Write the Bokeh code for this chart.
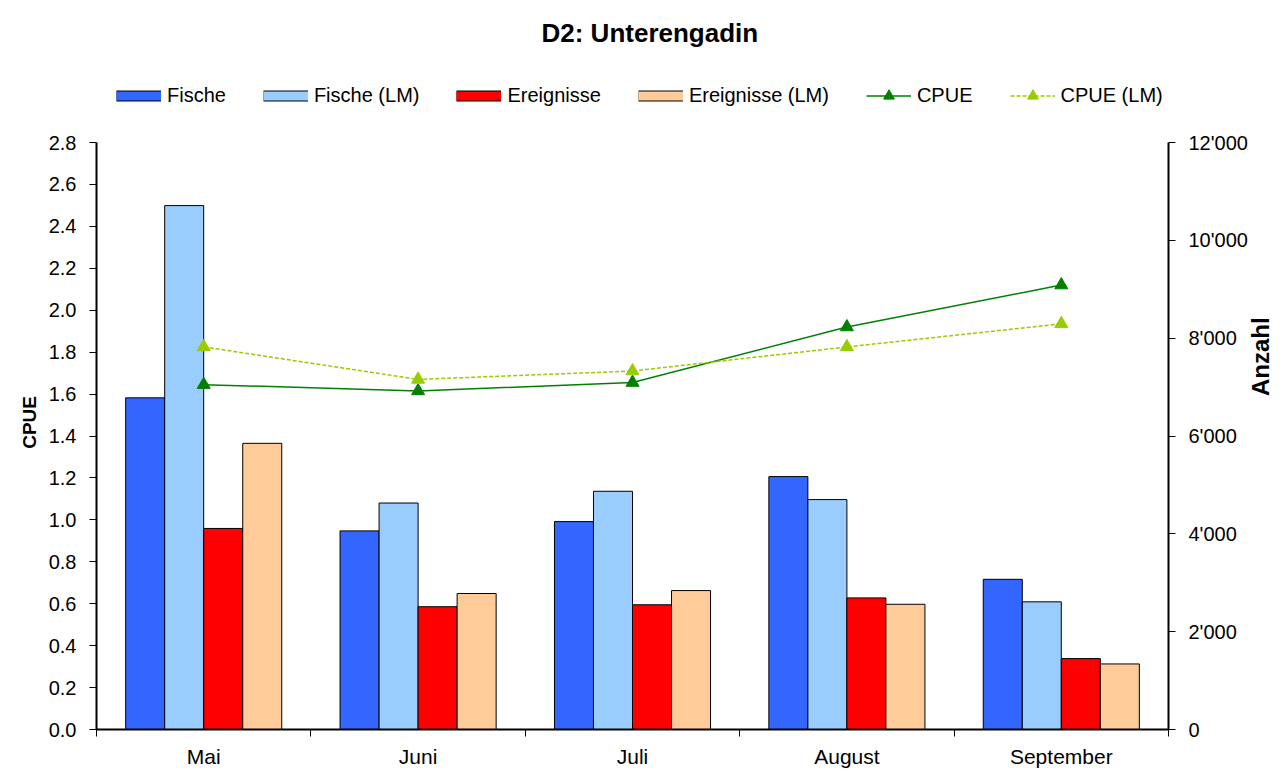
import math
import numpy as np
from bokeh.plotting import figure
from bokeh.models import (Range1d, LinearAxis, FixedTicker, Legend, LegendItem)
from bokeh.embed import file_html
from bokeh.resources import INLINE

# ---------------- data ----------------
months = ["Mai", "Juni", "Juli", "August", "September"]
fische = [6780, 4060, 4250, 5170, 3070]
fische_lm = [10710, 4630, 4870, 4700, 2610]
ereignisse = [4110, 2510, 2550, 2690, 1450]
ereignisse_lm = [5850, 2780, 2840, 2560, 1340]
cpue = [1.645, 1.615, 1.655, 1.92, 2.12]
cpue_lm = [1.825, 1.67, 1.71, 1.825, 1.935]

cpue_ticks = [0.0, 0.2, 0.4, 0.6, 0.8, 1.0, 1.2, 1.4, 1.6, 1.8, 2.0, 2.2, 2.4, 2.6, 2.8]
cpue_tick_labels = ["0.0", "0.2", "0.4", "0.6", "0.8", "1.0", "1.2", "1.4",
                    "1.6", "1.8", "2.0", "2.2", "2.4", "2.6", "2.8"]
anz_ticks = [0, 2000, 4000, 6000, 8000, 10000, 12000]
anz_tick_labels = ["0", "2'000", "4'000", "6'000", "8'000", "10'000", "12'000"]

title_text = "D2: Unterengadin"
FONT = "Liberation Sans"

# ---------------- layout (pixels) ----------------
FRAME_TOP = 62          # frame starts under the title; legend sits in its top strip
AXIS_PX = 587           # pixel height of the value axes (0 .. max)
FRAME_H = 667           # AXIS_PX + legend strip
stretch = FRAME_H / AXIS_PX

n = len(months)
centers = np.arange(n) + 0.5
bounds = np.arange(n + 1)

cmax = cpue_ticks[-1]
amax = anz_ticks[-1]

p = figure(frame_width=1072, frame_height=FRAME_H, output_backend="svg",
           toolbar_location=None,
           x_range=Range1d(0, n), y_range=Range1d(0, cmax * stretch),
           min_border_left=96, min_border_right=117, min_border_top=FRAME_TOP,
           min_border_bottom=42)
p.extra_y_ranges = {"anz": Range1d(0, amax * stretch)}
p.outline_line_color = None
p.xgrid.visible = False
p.ygrid.visible = False
p.background_fill_color = "white"
p.border_fill_color = "white"

# title
p.title.text = title_text
p.title.align = "left"
p.title.offset = 445
p.title.text_font = FONT
p.title.text_font_size = "26px"
p.title.text_font_style = "bold"
p.title.text_color = "black"
p.title.standoff = 30

# x axis: ticks at category boundaries, month names centred
xa = p.xaxis[0]
xa.ticker = FixedTicker(ticks=list(centers), minor_ticks=list(bounds))
xa.major_label_overrides = {float(c): m for c, m in zip(centers, months)}
xa.major_label_text_font = FONT
xa.major_label_text_font_size = "21px"
xa.major_label_text_color = "black"
xa.major_label_standoff = 8
xa.major_tick_out = 0
xa.major_tick_in = 0
xa.minor_tick_out = 7
xa.minor_tick_in = 0
xa.minor_tick_line_color = "black"
xa.minor_tick_line_width = 1
xa.axis_line_color = "black"
xa.axis_line_width = 2

# left axis
ya = p.yaxis[0]
ya.bounds = (0, cmax)
ya.ticker = FixedTicker(ticks=cpue_ticks, minor_ticks=[])
ya.major_label_overrides = {t: l for t, l in zip(cpue_ticks, cpue_tick_labels)}
ya.major_tick_out = 7
ya.major_tick_in = 0
ya.major_tick_line_color = "black"
ya.axis_line_color = "black"
ya.axis_line_width = 2
ya.major_label_text_font = FONT
ya.major_label_text_font_size = "20px"
ya.major_label_text_color = "black"
ya.major_label_standoff = 13
ya.axis_label = "CPUE"
ya.axis_label_text_font = FONT
ya.axis_label_text_font_size = "19px"
ya.axis_label_text_font_style = "bold"
ya.axis_label_text_color = "black"
ya.axis_label_standoff = 16
ya.axis_label_text_align = "right"
if "axis_label_orientation" in LinearAxis.properties():
    ya.axis_label_orientation = math.pi / 2

# right axis
ra = LinearAxis(y_range_name="anz", ticker=FixedTicker(ticks=anz_ticks, minor_ticks=[]))
ra.bounds = (0, amax)
ra.major_label_overrides = {t: l for t, l in zip(anz_ticks, anz_tick_labels)}
ra.major_tick_out = 7
ra.major_tick_in = 0
ra.major_tick_line_color = "black"
ra.axis_line_color = "black"
ra.axis_line_width = 2
ra.major_label_text_font = FONT
ra.major_label_text_font_size = "20px"
ra.major_label_text_color = "black"
ra.major_label_standoff = 13
ra.axis_label = "Anzahl"
ra.axis_label_text_font = FONT
ra.axis_label_text_font_size = "24px"
ra.axis_label_text_font_style = "bold"
ra.axis_label_text_color = "black"
ra.axis_label_standoff = 10
ra.axis_label_text_align = "left"
if "axis_label_orientation" in LinearAxis.properties():
    ra.axis_label_orientation = math.pi / 2
p.add_layout(ra, "right")

# bars
bw = 0.182
series = [
    (fische, "#3366FF", "Fische"),
    (fische_lm, "#99CCFF", "Fische (LM)"),
    (ereignisse, "#FF0000", "Ereignisse"),
    (ereignisse_lm, "#FFCC99", "Ereignisse (LM)"),
]
items = []
nan = [float("nan")]
for i, (vals, col, lab) in enumerate(series):
    off = (i - 1.5) * bw
    p.vbar(x=centers + off, top=vals, bottom=0, width=bw, y_range_name="anz",
           fill_color=col, line_color="black", line_width=1)
    # legend swatch only (flat bordered box); holds no data
    sw_border = p.line(x=nan, y=nan, line_color="black", line_width=11)
    sw_fill = p.line(x=nan, y=nan, line_color=col, line_width=9)
    items.append(LegendItem(label=lab, renderers=[sw_border, sw_fill]))

# lines
l1 = p.line(centers, cpue, line_color="#008000", line_width=1.5)
s1 = p.scatter(centers, cpue, marker="triangle", size=13, fill_color="#008000",
               line_color="#008000")
l2 = p.line(centers, cpue_lm, line_color="#99CC00", line_width=1.5, line_dash="4 2")
s2 = p.scatter(centers, cpue_lm, marker="triangle", size=13, fill_color="#99CC00",
               line_color="#99CC00")
items.append(LegendItem(label="CPUE", renderers=[l1, s1]))
items.append(LegendItem(label="CPUE (LM)", renderers=[l2, s2]))

legend = Legend(items=items, orientation="horizontal", location="top_left",
                margin=20, padding=14, spacing=37, glyph_width=45, glyph_height=27,
                label_standoff=6, label_text_font=FONT, label_text_font_size="20px",
                label_text_color="black", border_line_color=None,
                background_fill_alpha=0)
p.add_layout(legend, "center")

open("out.html", "w").write(file_html(p, INLINE))
